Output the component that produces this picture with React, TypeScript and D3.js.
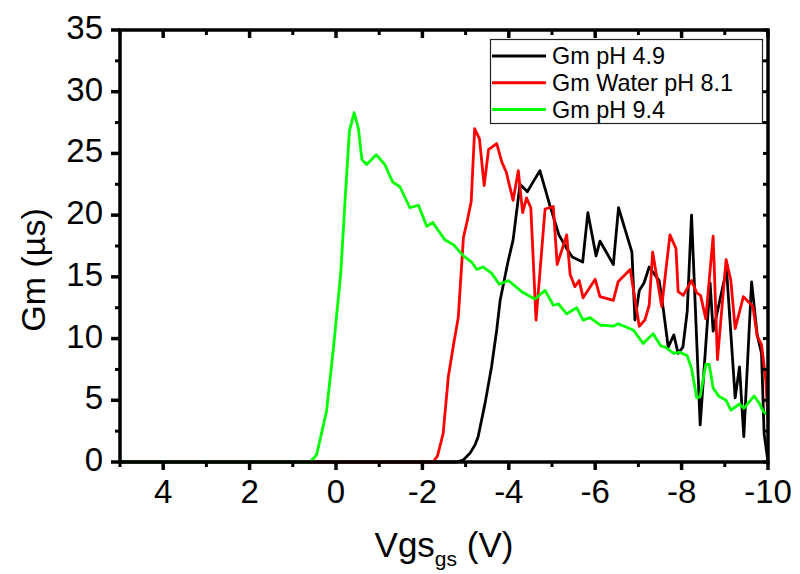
import React from "react";
import * as d3 from "d3";

type Pt = [number, number];

// Gm vs Vgs, pH 4.9 (black)
const gmPh49: Pt[] = [
  [5, 0], [-2.79, 0], [-2.94, 0.15], [-3.1, 0.7], [-3.22, 1.4], [-3.29, 2.05], [-3.45, 4.75], [-3.6, 7.7],
  [-3.72, 10.7], [-3.8, 13.1], [-3.98, 16.2], [-4.1, 18.0], [-4.26, 22.5], [-4.43, 21.9], [-4.58, 22.8],
  [-4.72, 23.6], [-4.95, 20.8], [-5.16, 18.4], [-5.34, 17.3], [-5.47, 16.6], [-5.71, 16.2], [-5.83, 20.2],
  [-6.02, 16.7], [-6.11, 17.9], [-6.42, 16.0], [-6.54, 20.6], [-6.85, 17.0], [-6.92, 11.5], [-7.02, 13.9],
  [-7.13, 14.5], [-7.25, 15.8], [-7.48, 14.7], [-7.58, 12.3], [-7.69, 9.3], [-7.82, 10.3], [-7.92, 8.8],
  [-8.03, 9.3], [-8.13, 12.2], [-8.23, 20.0], [-8.43, 3.0], [-8.66, 14.5], [-8.73, 10.6], [-9.04, 15.6],
  [-9.24, 5.2], [-9.34, 7.7], [-9.44, 2.05], [-9.62, 14.6], [-9.75, 10.3], [-9.85, 8.8], [-9.91, 2.3], [-10, 0],
];

// Gm Water pH 8.1 (red)
const gmWater81: Pt[] = [
  [5, 0], [-2.25, 0], [-2.35, 0.5], [-2.48, 2.3], [-2.6, 6.9], [-2.72, 9.5], [-2.83, 11.7], [-2.95, 18.2],
  [-3.03, 19.4], [-3.13, 21.1], [-3.21, 27.0], [-3.32, 26.2], [-3.43, 22.4], [-3.53, 25.3], [-3.72, 25.8],
  [-3.84, 24.3], [-3.94, 23.5], [-4.1, 21.2], [-4.22, 23.6], [-4.32, 20.2], [-4.41, 21.4], [-4.51, 20.6],
  [-4.63, 11.5], [-4.84, 20.5], [-5.03, 20.7], [-5.12, 16.0], [-5.34, 18.4], [-5.42, 15.2], [-5.53, 14.2],
  [-5.63, 14.7], [-5.72, 13.3], [-6.0, 14.8], [-6.11, 13.4], [-6.42, 13.1], [-6.53, 14.6], [-6.81, 15.6],
  [-7.02, 11.0], [-7.15, 11.5], [-7.25, 12.7], [-7.33, 17.0], [-7.54, 12.6], [-7.73, 18.4], [-7.87, 17.3],
  [-7.92, 13.8], [-8.04, 13.5], [-8.23, 14.7], [-8.35, 13.7], [-8.44, 13.5], [-8.56, 11.6], [-8.73, 18.3],
  [-8.83, 8.3], [-9.03, 16.4], [-9.14, 14.7], [-9.24, 10.8], [-9.43, 13.4], [-9.65, 12.6], [-9.75, 10.2],
  [-9.85, 9.5], [-9.95, 6.6], [-10, 3.4],
];

// Gm pH 9.4 (green)
const gmPh94: Pt[] = [
  [5, 0], [0.6, 0], [0.45, 0.57], [0.22, 4.1], [0.06, 9.2], [-0.11, 15.3], [-0.21, 21.2], [-0.31, 26.8],
  [-0.42, 28.3], [-0.52, 27.0], [-0.6, 24.5], [-0.71, 24.1], [-0.93, 24.9], [-1.13, 24.1], [-1.31, 22.7],
  [-1.48, 22.3], [-1.71, 20.6], [-1.91, 20.8], [-2.1, 19.1], [-2.24, 19.4], [-2.52, 18.0], [-2.72, 17.6],
  [-2.95, 16.7], [-3.14, 16.2], [-3.26, 15.6], [-3.4, 15.8], [-3.6, 15.3], [-3.78, 14.4], [-3.99, 14.7],
  [-4.3, 13.8], [-4.6, 13.2], [-4.84, 13.9], [-5.03, 12.7], [-5.15, 12.8], [-5.34, 12.0], [-5.57, 12.5],
  [-5.72, 11.5], [-5.88, 11.7], [-6.11, 11.1], [-6.42, 11.0], [-6.53, 11.2], [-6.88, 10.7], [-7.11, 9.6],
  [-7.34, 10.4], [-7.52, 9.4], [-7.62, 9.3], [-7.82, 8.8], [-7.96, 8.9], [-8.13, 8.6], [-8.23, 7.6],
  [-8.35, 5.2], [-8.43, 5.3], [-8.56, 7.9], [-8.64, 7.9], [-8.73, 6.0], [-8.87, 5.3], [-9.03, 5.0],
  [-9.14, 4.2], [-9.34, 4.7], [-9.44, 4.35], [-9.68, 5.35], [-9.8, 4.75], [-9.89, 4.1], [-10, 3.8],
];

const seriesNames = ["Gm pH 4.9", "Gm Water pH 8.1", "Gm pH 9.4"];
const seriesColors = ["#000000", "#ff0000", "#00ff00"];
const seriesData = [gmPh49, gmWater81, gmPh94];

const xTickValues = [4, 2, 0, -2, -4, -6, -8, -10];
const xMinorValues = [5, 3, 1, -1, -3, -5, -7, -9];
const yTickValues = [0, 5, 10, 15, 20, 25, 30, 35];
const yMinorValues = [2.5, 7.5, 12.5, 17.5, 22.5, 27.5, 32.5];

const W = 800;
const H = 574;
const M = { left: 120, right: 768, top: 30, bottom: 462 };
const FONT = "'Liberation Sans', Arial, Helvetica, sans-serif";

export default function App() {
  const x = d3.scaleLinear().domain([5, -10]).range([M.left, M.right]);
  const y = d3.scaleLinear().domain([0, 35]).range([M.bottom, M.top]);
  const line = d3
    .line<Pt>()
    .x((d) => x(d[0]))
    .y((d) => y(d[1]));

  const axisW = 3.5;
  const allYTicks = d3.range(0, 35.1, 2.5);

  return (
    <div style={{ position: "fixed", left: 0, top: 0, width: W, height: H, background: "#fff" }}>
      <svg width={W} height={H} style={{ display: "block" }} fontFamily={FONT}>
        <defs>
          <clipPath id="plotclip">
            <rect x={M.left} y={M.top - 2} width={M.right - M.left + 2} height={M.bottom - M.top + 4} />
          </clipPath>
        </defs>

        {/* series */}
        <g clipPath="url(#plotclip)">
          {seriesData.map((d, i) => (
            <path
              key={i}
              d={line(d) || ""}
              fill="none"
              stroke={seriesColors[i]}
              strokeWidth={2.8}
              strokeLinejoin="round"
            />
          ))}
        </g>

        {/* frame */}
        <rect
          x={M.left}
          y={M.top}
          width={M.right - M.left}
          height={M.bottom - M.top}
          fill="none"
          stroke="#000"
          strokeWidth={axisW}
        />

        {/* bottom ticks (outward) */}
        {xTickValues.map((v) => (
          <line key={"bx" + v} x1={x(v)} x2={x(v)} y1={M.bottom} y2={M.bottom + 8} stroke="#000" strokeWidth={3.5} />
        ))}
        {xMinorValues.map((v) => (
          <line key={"bm" + v} x1={x(v)} x2={x(v)} y1={M.bottom} y2={M.bottom + 5} stroke="#000" strokeWidth={3} />
        ))}
        {/* top ticks (inward) */}
        {xTickValues.map((v) => (
          <line key={"tx" + v} x1={x(v)} x2={x(v)} y1={M.top} y2={M.top + 8} stroke="#000" strokeWidth={3.5} />
        ))}
        {xMinorValues.map((v) => (
          <line key={"tm" + v} x1={x(v)} x2={x(v)} y1={M.top} y2={M.top + 5} stroke="#000" strokeWidth={3} />
        ))}
        {/* left ticks (outward) */}
        {yTickValues.map((v) => (
          <line key={"ly" + v} x1={M.left - 9} x2={M.left} y1={y(v)} y2={y(v)} stroke="#000" strokeWidth={3.5} />
        ))}
        {yMinorValues.map((v) => (
          <line key={"lm" + v} x1={M.left - 5} x2={M.left} y1={y(v)} y2={y(v)} stroke="#000" strokeWidth={3} />
        ))}
        {/* right ticks (inward) */}
        {allYTicks.map((v) => (
          <line key={"ry" + v} x1={M.right - 5} x2={M.right} y1={y(v)} y2={y(v)} stroke="#000" strokeWidth={3} />
        ))}

        {/* tick labels */}
        {xTickValues.map((v) => (
          <text key={"xl" + v} x={x(v)} y={503} fontSize={33} textAnchor="middle" fill="#000">
            {v}
          </text>
        ))}
        {yTickValues.map((v) => (
          <text key={"yl" + v} x={103} y={y(v) + 9} fontSize={33} textAnchor="end" fill="#000">
            {v}
          </text>
        ))}

        {/* axis titles */}
        <text x={444} y={557} fontSize={35} textAnchor="middle" fill="#000">
          Vgs
          <tspan fontSize={21} dy={9}>gs</tspan>
          <tspan fontSize={35} dy={-9}> (V)</tspan>
        </text>
        <text
          transform={`translate(45, 270) rotate(-90)`}
          fontSize={34}
          textAnchor="middle"
          fill="#000"
        >
          Gm (µs)
        </text>

        {/* legend */}
        <rect x={490.5} y={39.5} width={272} height={84} fill="#fff" stroke="#222" strokeWidth={1.2} />
        {seriesNames.map((name, i) => (
          <g key={name}>
            <line
              x1={492}
              x2={546}
              y1={56 + i * 26.7}
              y2={56 + i * 26.7}
              stroke={seriesColors[i]}
              strokeWidth={3}
            />
            <text x={552} y={56 + i * 26.7 + 8.3} fontSize={23.4} fill="#000">
              {name}
            </text>
          </g>
        ))}
      </svg>
    </div>
  );
}
